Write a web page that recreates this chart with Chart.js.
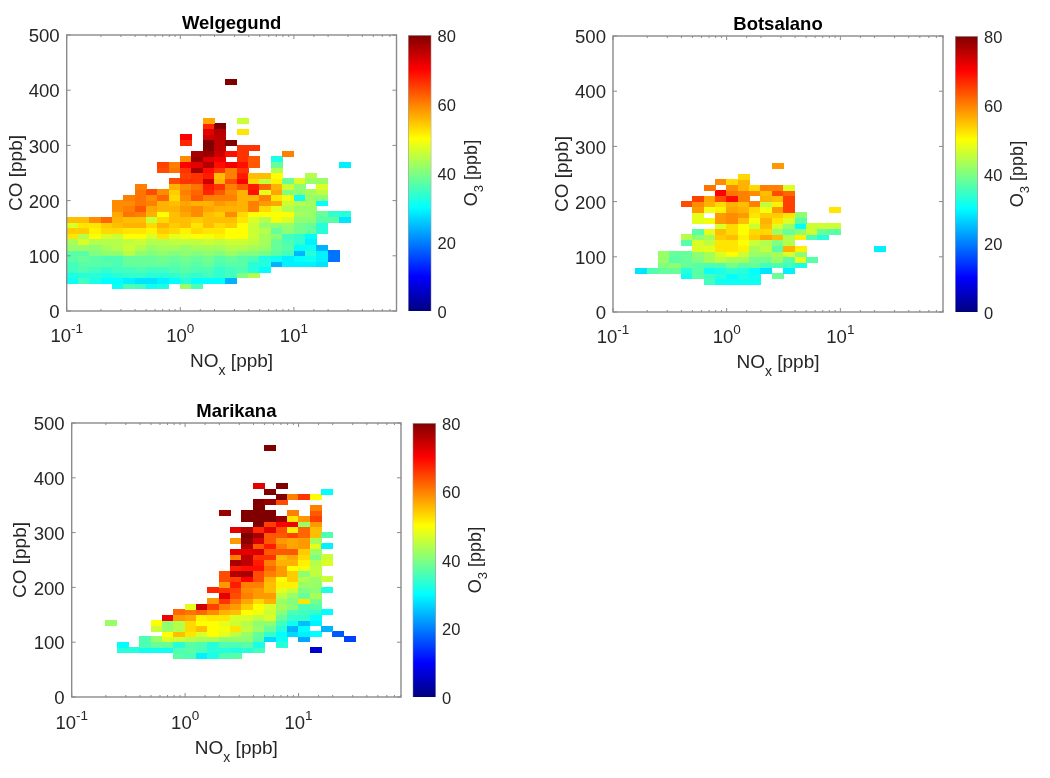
<!DOCTYPE html>
<html>
<head>
<meta charset="utf-8">
<title>O3 against NOx and CO</title>
<script src="https://cdn.jsdelivr.net/npm/chart.js@4"></script>
<style>
    html, body { margin: 0; padding: 0; background: #fff; }
    #page { position: relative; width: 1050px; height: 778px; overflow: hidden; }
    canvas { position: absolute; }
</style>
</head>
<body>
<div id="page"></div>
<script>
const _ = null;

// lower edges of the NOx bins, ppb
const noxEdges = [0.1, 0.126, 0.158, 0.2, 0.251, 0.316, 0.398, 0.501, 0.631, 0.794,
    1, 1.26, 1.58, 2, 2.51, 3.16, 3.98, 5.01, 6.31, 7.94,
    10, 12.6, 15.8, 20, 25.1, 31.6, 39.8, 50.1, 63.1, 79.4];
const coTicks = [0, 100, 200, 300, 400, 500];
const colorbarTicks = [0, 20, 40, 60, 80];
const colorbarRange = [0, 80];

const welgegundCO = [40, 50, 60, 70, 80, 90, 100, 110, 120, 130, 140, 150, 160, 170, 180, 190, 200, 210, 220, 230, 240, 250, 260, 270, 280, 290, 300, 310, 320, 330, 340, 410];
const welgegundFirstBin = [4, 0, 0, 0, 0, 0, 0, 0, 0, 0, 0, 0, 0, 4, 4, 4, 5, 6, 6, 9, 10, 8, 8, 10, 11, 12, 10, 10, 12, 12, 12, 14];
const welgegundO3 = [
    [31, 36, 35, 31, 32, _, 42, 36],
    [31, 35, 32, 30, 30, 29, 28, 28, 29, 30, 33, 30, 30, 30, 24],
    [32, 33, 33, 32, 33, 34, 34, 33, 33, 34, 35, 34, 35, 34, 35, 40, 44],
    [35, 36, 35, 34, 35, 35, 36, 35, 35, 36, 37, 36, 36, 34, 35, 36, 33, 30],
    [35, 37, 37, 37, 36, 38, 38, 38, 38, 37, 38, 37, 38, 36, 37, 37, 33, 33, 24, 29, 29, 29, 28],
    [37, 38, 37, 36, 36, 38, 38, 38, 39, 38, 39, 38, 39, 37, 38, 37, 36, 32, 31, 29, 30, 31, 29, 19],
    [37, 37, 40, 41, 41, 44, 41, 40, 41, 40, 41, 40, 41, 40, 42, 40, 40, 39, 37, 35, 24, 33, 29, 19],
    [42, 42, 41, 43, 44, 46, 44, 42, 43, 43, 42, 43, 43, 43, 44, 44, 43, 42, 38, 37, 30, 31, 24],
    [43, 47, 44, 44, 44, 45, 46, 44, 44, 45, 45, 45, 46, 45, 46, 46, 45, 43, 38, 36, 34, 29],
    [52, 44, 50, 47, 46, 50, 50, 47, 52, 48, 49, 50, 49, 51, 50, 50, 46, 43, 41, 35, 34, 30],
    [54, 54, 51, 53, 53, 52, 52, 51, 54, 53, 51, 53, 52, 52, 50, 50, 46, 44, 38, 41, 39, 38, 33],
    [47, 52, 52, 54, 55, 56, 56, 53, 56, 54, 55, 52, 55, 53, 54, 50, 46, 42, 41, 42, 39, 38, 33],
    [55, 55, 59, 62, 56, 55, 55, 46, 53, 55, 55, 54, 55, 55, 55, 52, 47, 44, 49, 47, 41, 41, 37, 37, 28],
    [57, 61, 60, 56, 50, 55, 57, 59, 55, 54, 59, 53, 50, 50, 50, 50, 43, 42, 38, 34, 33],
    [59, 60, 63, 57, 56, 56, 58, 59, 57, 56, 56, 56, 60, 53, 48, 44, 42, 42],
    [59, 59, 61, 60, 56, 55, 57, 56, 56, 58, 57, 56, 60, 58, 57, 46, 44, 43, 30],
    [60, 61, 59, 62, 53, 59, 63, 60, 60, 60, 56, 56, 60, 52, 49, 31, 42, 41],
    [61, 64, 59, 54, 60, 62, 67, 63, 59, 56, 69, 48, 57, 40, 41, 43, 45],
    [60, _, _, 56, 59, 61, 68, 66, 60, 63, 68, 62, 56, 46, 41, _, 47],
    [64, 66, 66, 74, 56, 64, 70, 53, 45, 51, 38, 47, 42, 42],
    [65, 66, 68, 55, 60, 68, 55, 55, 50, _, _, 44],
    [64, 61, 66, 77, 69, 66, 60, 66, _, _, 44],
    [65, 60, 70, 72, 76, 69, 71, 69, 63, _, 38, _, _, _, _, _, 29],
    [59, 78, 72, 71, _, 66, 63, _, 32],
    [77, 78, 74, 69, 66, _, _, _, 60],
    [80, 75, _, 66, 66],
    [67, _, 80, 75, 80],
    [70, _, 74, 75],
    [72, 76, _, 52],
    [67, 80],
    [57, _, _, 46],
    [80]
];

const botsalanoCO = [50, 60, 70, 80, 90, 100, 110, 120, 130, 140, 150, 160, 170, 180, 190, 200, 210, 220, 230, 240, 260];
const botsalanoFirstBin = [8, 6, 2, 4, 4, 4, 7, 6, 6, 7, 9, 7, 7, 7, 6, 7, 9, 8, 9, 11, 14];
const botsalanoO3 = [
    [35, 31, 31, 31, 31],
    [31, 37, 35, 33, 30, 32, 31, _, 38],
    [28, 36, 38, 38, 33, 37, 31, 32, 34, 33, 30, 28, _, 29],
    [40, 41, 38, 37, 36, 36, 39, 37, 38, 35, 36, 35, 32],
    [42, 37, 38, 40, 43, 45, 43, 43, 39, 39, 42, 37, 48, 37],
    [42, 38, 38, 41, 43, 47, 50, 46, 42, 42, 43, 47, 41],
    [47, 48, 52, 52, 51, 43, 45, 37, 56, 51, _, _, _, _, _, _, 29],
    [37, 47, 45, 52, 52, 50, 46, 44, 40, 44],
    [44, 41, 43, 54, 55, 51, 54, 57, 55, 44, 51, 36, 33],
    [37, 48, 55, 53, 50, 53, 53, 42, 38, 41, 46, 38, 37],
    [47, 53, 50, 46, 55, 47, 42, 30, 46, 46, 46],
    [48, 49, 58, 59, 55, 49, 56, 52, 47, 37],
    [48, _, 58, 59, 58, 52, 54, 54, 52, 41],
    [58, 49, 51, 57, 56, 53, 49, 58, 65, _, _, _, 52],
    [64, 59, 56, 53, 56, 55, 60, 45, 51, 65],
    [65, 57, 64, 69, 60, _, 56, 55, 65],
    [70, 61, 60, 59, 55, 64, 62],
    [61, _, 59, 56, 53, 60, 60, 47],
    [59, 53, 56],
    [53],
    [58]
];

const marikanaCO = [70, 80, 90, 100, 110, 120, 130, 140, 150, 160, 170, 180, 190, 200, 210, 220, 230, 240, 250, 260, 270, 280, 290, 300, 310, 320, 330, 340, 350, 360, 370, 380, 450];
const marikanaFirstBin = [9, 4, 4, 6, 8, 7, 3, 8, 9, 10, 12, 13, 12, 13, 13, 13, 14, 14, 14, 14, 15, 14, 15, 14, 16, 15, 13, 16, 16, 18, 17, 16, 17];
const marikanaO3 = [
    [37, 36, 29, 32, 36, 37],
    [33, 33, 31, 31, 31, 36, 37, 36, 33, 33, 32, 33, 35, _, _, _, _, 6],
    [30, _, 36, 38, 38, 33, 37, 36, 33, 36, 36, 37, 32, _, 33],
    [36, 42, 47, 46, 44, 43, 43, 41, 41, 41, 37, 27, 31, _, 23, _, _, _, 15],
    [50, 55, 52, 47, 50, 48, 45, 42, 38, 34, 30, 27, 29, 30, _, 17],
    [46, 42, 44, 53, 55, 50, 49, 52, 45, 42, 38, 33, 24, 30, _, 24],
    [42, _, _, _, 50, 41, 44, 53, 50, 50, 48, 46, 44, 41, 41, 35, 31, 25, 29],
    [71, 58, 57, 51, 52, 52, 47, 47, 45, 47, 38, 34, 34, 30],
    [62, 61, 62, 59, 56, 55, 50, 49, 46, 41, 36, 35, 34, 30],
    [48, 74, 65, 60, 58, 54, 50, 47, 43, 41, 36, 37],
    [58, 66, 61, 57, 53, 56, 42, 40, 52, 39],
    [72, 64, 60, 58, 58, 45, 42, 38, 43],
    [67, 66, 65, 59, 58, 55, 48, 46, 40, 41, 32],
    [58, 68, 60, 60, 55, 51, 51, 42, 42],
    [64, 65, 70, 64, 56, 50, 54, 44, 42, 46],
    [64, 76, 77, 64, 60, 58, 54, 41, 45],
    [68, 69, 69, 62, 58, 50, 49, 45],
    [77, 75, 68, 60, 56, 56, 51, 44, 47],
    [60, 75, 66, 66, 55, 57, 53, 40, 46],
    [72, 72, 73, 63, 63, 63, 54, 42],
    [76, 63, 68, 60, 57, 58, 48, 29],
    [58, 79, 73, 63, 58, 57, 58, 43],
    [80, 77, 63, 63, 65, 62, 55, 36],
    [72, 76, 67, 72, 64, 51, 62, 55],
    [80, 65, 70, 71, 42, 58],
    [80, 80, 80, 78, 52, 58, 65],
    [78, _, 80, 80, 80, _, 60, _, 63],
    [80, _, _, _, _, 60],
    [80, 78, 64],
    [80, 60, 66, 50],
    [80, _, _, _, _, 30],
    [72, _, 80],
    [80]
];

const FONT = '"Liberation Sans", Arial, sans-serif';
const TEXT = '#262626';
const AXIS = '#8a8a8a';
const page = document.getElementById('page');

// matlab style jet colormap, 0..80 ppb
function jet(v) {
    const t = v / 80;
    const c = x => Math.round(255 * Math.max(0, Math.min(1, x)));
    return [
        c(Math.min(4 * t - 1.5, -4 * t + 4.5)),
        c(Math.min(4 * t - 0.5, -4 * t + 3.5)),
        c(Math.min(4 * t + 0.5, -4 * t + 2.5))
    ];
}
const jetCss = v => `rgb(${jet(v).join(',')})`;

function toCells(coBins, firstBin, rows) {
    const cells = [];
    rows.forEach((row, r) => {
        row.forEach((o3, i) => {
            if (o3 === null) return;
            const c = firstBin[r] + i;
            cells.push({
                x: Math.sqrt(noxEdges[c] * noxEdges[c + 1]),
                y: coBins[r] + 5,
                o3: o3
            });
        });
    });
    return cells;
}

// a point style is just a little canvas, sized from the scales
const cellCache = new Map();
function cellStyle(ctx) {
    const raw = ctx.raw;
    if (!raw) return 'rect';
    const sx = ctx.chart.scales.x, sy = ctx.chart.scales.y;
    const w = Math.abs(sx.getPixelForValue(noxEdges[1]) - sx.getPixelForValue(noxEdges[0]));
    const h = Math.abs(sy.getPixelForValue(10) - sy.getPixelForValue(0));
    const key = `${raw.o3}|${w.toFixed(1)}|${h.toFixed(1)}`;
    if (!cellCache.has(key)) {
        const cv = document.createElement('canvas');
        cv.width = Math.ceil(w);
        cv.height = Math.ceil(h);
        const g = cv.getContext('2d');
        g.fillStyle = jetCss(raw.o3);
        g.fillRect(0, 0, cv.width, cv.height);
        cellCache.set(key, cv);
    }
    return cellCache.get(key);
}

// draws pieces of text in a row, each {t, size, dy}
function richText(ctx, parts, x, y) {
    ctx.textAlign = 'left';
    ctx.textBaseline = 'alphabetic';
    ctx.fillStyle = TEXT;
    let total = 0;
    parts.forEach(p => {
        ctx.font = `${p.size}px ${FONT}`;
        total += ctx.measureText(p.t).width;
    });
    let cx = x - total / 2;
    parts.forEach(p => {
        ctx.font = `${p.size}px ${FONT}`;
        ctx.fillText(p.t, cx, y + (p.dy || 0));
        cx += ctx.measureText(p.t).width;
    });
}

const boxPlugin = {
    id: 'boxPlugin',
    afterDatasetsDraw(chart) {
        const { ctx, chartArea: a, scales } = chart;
        const sx = scales.x, sy = scales.y;
        const lift = chart.options.labelShift || 0;
        ctx.save();
        ctx.strokeStyle = AXIS;
        ctx.lineWidth = 1.4;
        ctx.strokeRect(a.left, a.top, a.right - a.left, a.bottom - a.top);
        ctx.lineWidth = 1;
        ctx.beginPath();
        sx.ticks.forEach(tk => {
            const lg = Math.log10(tk.value);
            const major = Math.abs(lg - Math.round(lg)) < 1e-6;
            const len = major ? 4 : 2;
            const px = sx.getPixelForValue(tk.value);
            ctx.moveTo(px, a.bottom);
            ctx.lineTo(px, a.bottom - len);
            ctx.moveTo(px, a.top);
            ctx.lineTo(px, a.top + len);
        });
        sy.ticks.forEach(tk => {
            const py = sy.getPixelForValue(tk.value);
            ctx.moveTo(a.left, py);
            ctx.lineTo(a.left + 4, py);
            ctx.moveTo(a.right, py);
            ctx.lineTo(a.right - 4, py);
        });
        ctx.stroke();

        // x tick labels need a real superscript
        [[0.1, '-1'], [1, '0'], [10, '1']].forEach(([v, exp]) => {
            richText(ctx, [{ t: '10', size: 18.5 }, { t: exp, size: 13.5, dy: -9 }],
                sx.getPixelForValue(v), a.bottom + 31 + lift);
        });
        richText(ctx, [{ t: 'NO', size: 19 }, { t: 'x', size: 14, dy: 8 }, { t: ' [ppb]', size: 19 }],
            (a.left + a.right) / 2, a.bottom + 56 + lift);
        ctx.restore();
    }
};

const o3TitlePlugin = {
    id: 'o3Title',
    afterDraw(chart) {
        const { ctx, chartArea: a } = chart;
        ctx.save();
        ctx.translate(a.right + 45, (a.top + a.bottom) / 2);
        ctx.rotate(-Math.PI / 2);
        richText(ctx, [{ t: 'O', size: 18 }, { t: '3', size: 13, dy: 6 }, { t: ' [ppb]', size: 18 }], 0, 0);
        ctx.restore();
    }
};

function addCanvas(left, top, width, height) {
    const cv = document.createElement('canvas');
    cv.width = width;
    cv.height = height;
    cv.style.left = left + 'px';
    cv.style.top = top + 'px';
    cv.style.width = width + 'px';
    cv.style.height = height + 'px';
    page.appendChild(cv);
    return cv;
}

function heatmap(p) {
    const canvasLeft = p.left - p.axisWidth;
    const canvasTop = p.top - 35;
    const plotWidth = p.right - p.left;
    const plotHeight = p.bottom - p.top;
    const cv = addCanvas(canvasLeft, canvasTop, Math.ceil(p.axisWidth + plotWidth + 4), Math.ceil(35 + plotHeight + 70));
    return new Chart(cv, {
        type: 'scatter',
        data: {
            datasets: [{
                label: p.title,
                data: toCells(p.co, p.firstBin, p.o3),
                pointStyle: cellStyle,
                pointRadius: 3,
                pointHoverRadius: 3
            }]
        },
        options: {
            responsive: false,
            animation: false,
            devicePixelRatio: 1,
            labelShift: p.labelShift,
            layout: { padding: { right: cv.width - p.axisWidth - plotWidth } },
            plugins: {
                legend: { display: false },
                tooltip: { enabled: false },
                title: {
                    display: true,
                    text: p.title,
                    fullSize: false,
                    color: '#000',
                    font: { family: FONT, size: 18.5, weight: 'bold', lineHeight: 1.2 },
                    padding: { top: 12.8, bottom: 0 }
                }
            },
            scales: {
                x: {
                    type: 'logarithmic',
                    min: 0.1,
                    max: 80,
                    grid: { display: false, drawTicks: false },
                    border: { display: false },
                    ticks: { display: false },
                    afterFit: s => { s.height = 70; }
                },
                y: {
                    min: 0,
                    max: 500,
                    grid: { display: false, drawTicks: false },
                    border: { display: false },
                    afterBuildTicks: s => { s.ticks = coTicks.map(v => ({ value: v })); },
                    ticks: { color: TEXT, padding: 7, labelOffset: 2, font: { family: FONT, size: 18.6 } },
                    title: {
                        display: true,
                        text: 'CO [ppb]',
                        color: TEXT,
                        font: { family: FONT, size: 19 },
                        padding: { top: 5, bottom: 0 }
                    },
                    afterFit: s => { s.width = p.axisWidth; }
                }
            }
        },
        plugins: [boxPlugin]
    });
}

function colorbar(p) {
    const cv = addCanvas(Math.floor(p.barLeft), p.top - 12, 80, p.bottom - p.top + 24);
    const offset = p.barLeft - Math.floor(p.barLeft);
    const barW = p.barRight - p.barLeft;
    return new Chart(cv, {
        type: 'bar',
        data: {
            labels: ['O3'],
            datasets: [{
                data: [colorbarRange],
                barPercentage: 1,
                categoryPercentage: 1,
                borderWidth: 1,
                borderColor: 'rgba(90,90,90,0.55)',
                backgroundColor: ctx => {
                    const a = ctx.chart.chartArea;
                    if (!a) return '#000';
                    const g = ctx.chart.ctx.createLinearGradient(0, a.bottom, 0, a.top);
                    for (let v = 0; v <= 80; v += 5) g.addColorStop(v / 80, jetCss(v));
                    return g;
                }
            }]
        },
        options: {
            responsive: false,
            animation: false,
            devicePixelRatio: 1,
            layout: { padding: { left: offset, top: 12, bottom: 12 } },
            plugins: { legend: { display: false }, tooltip: { enabled: false } },
            scales: {
                x: { display: false },
                y: {
                    position: 'right',
                    min: 0,
                    max: 80,
                    grid: { display: false, drawTicks: false },
                    border: { display: false },
                    afterBuildTicks: s => { s.ticks = colorbarTicks.map(v => ({ value: v })); },
                    ticks: { color: TEXT, padding: 6, labelOffset: 2, font: { family: FONT, size: 16.5 } },
                    afterFit: s => {
                        s.width = 80 - offset - barW;
                        s.paddingTop = 0;
                        s.paddingBottom = 0;
                    }
                }
            }
        },
        plugins: [o3TitlePlugin]
    });
}

const panels = [
    { title: 'Welgegund', co: welgegundCO, firstBin: welgegundFirstBin, o3: welgegundO3,
      left: 66.7, right: 396.5, top: 35, bottom: 311, axisWidth: 66.7, barLeft: 408, barRight: 431.5, labelShift: 0 },
    { title: 'Botsalano', co: botsalanoCO, firstBin: botsalanoFirstBin, o3: botsalanoO3,
      left: 613, right: 943, top: 36, bottom: 312, axisWidth: 67, barLeft: 955, barRight: 978, labelShift: 0 },
    { title: 'Marikana', co: marikanaCO, firstBin: marikanaFirstBin, o3: marikanaO3,
      left: 71.7, right: 401, top: 423, bottom: 697, axisWidth: 67.7, barLeft: 412.5, barRight: 436, labelShift: 1 }
];

panels.forEach(p => {
    heatmap(p);
    colorbar(p);
});
</script>
</body>
</html>
